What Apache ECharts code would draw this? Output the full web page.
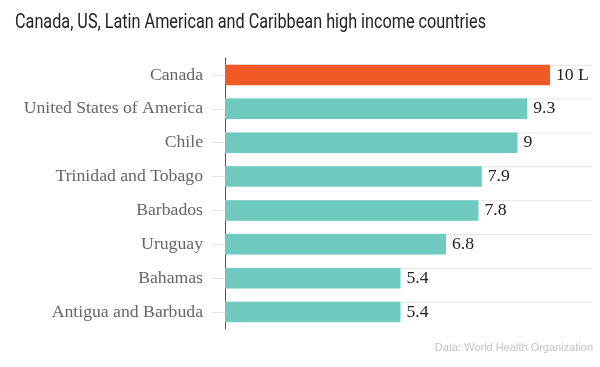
<!DOCTYPE html>
<html><head><meta charset="utf-8">
<script src="https://cdn.jsdelivr.net/npm/echarts@6/dist/echarts.min.js"></script>
<style>html,body{margin:0;padding:0;background:#fff}#c{width:600px;height:367px}</style>
</head><body><div id="c"></div>
<script>
const categories = ["Canada","United States of America","Chile","Trinidad and Tobago","Barbados","Uruguay","Bahamas","Antigua and Barbuda"];
const values = [10, 9.3, 9, 7.9, 7.8, 6.8, 5.4, 5.4];
const valueLabels = ["10 L","9.3","9","7.9","7.8","6.8","5.4","5.4"];
const highlight = "Canada";
const axisMax = 11.3;
const gridTrack = categories.map(() => axisMax);
const titleText = "Canada, US, Latin American and Caribbean high income countries";
const sourceText = "Data: World Health Organization";

const chart = echarts.init(document.getElementById('c'), null, {renderer:'canvas'});
// measure title width to emulate a condensed face
const ctx = document.createElement('canvas').getContext('2d');
ctx.font = "20px Roboto";
const tw = ctx.measureText(titleText).width;
const sx = 471 / tw;
chart.setOption({
  animation:false,
  graphic:[{type:'text',x:15,y:12.5,scaleX:sx,
    style:{text:titleText,font:"20px Roboto",fill:'#222',verticalAlign:'top',align:'left'}}],
  title:[{text:sourceText,right:2,top:337,
    textStyle:{fontFamily:"Liberation Sans",fontSize:11,fontWeight:'normal',color:'#c4c4c4'}}],
  grid:{left:225,right:7.75,top:58,height:271},
  xAxis:{type:'value',min:0,max:axisMax,show:false},
  yAxis:{type:'category',inverse:true,data:categories,
    axisLine:{show:true,lineStyle:{color:'#555',width:1}},
    axisTick:{show:true,alignWithLabel:true,length:13,lineStyle:{color:'#e3e3e3'}},
    axisLabel:{margin:22,fontFamily:"Liberation Serif",fontSize:17.7,color:'#666'},
    splitLine:{show:false}},
  series:[
    {type:'bar',data:gridTrack,barWidth:1,z:1,silent:true,
      itemStyle:{color:'#e3e3e3'}},
    {type:'bar',barGap:'-100%',barWidth:20.5,z:3,
      data:values.map((v,i)=>({value:v,itemStyle:{color:categories[i]===highlight?'#f15a24':'#6ecabf'}})),
      label:{show:true,position:'right',distance:5,fontFamily:"Liberation Serif",fontSize:17.7,color:'#222',
        backgroundColor:'#fff',padding:[0,3,0,1],
        formatter:p=>valueLabels[p.dataIndex]}}
  ]
});
</script></body></html>
